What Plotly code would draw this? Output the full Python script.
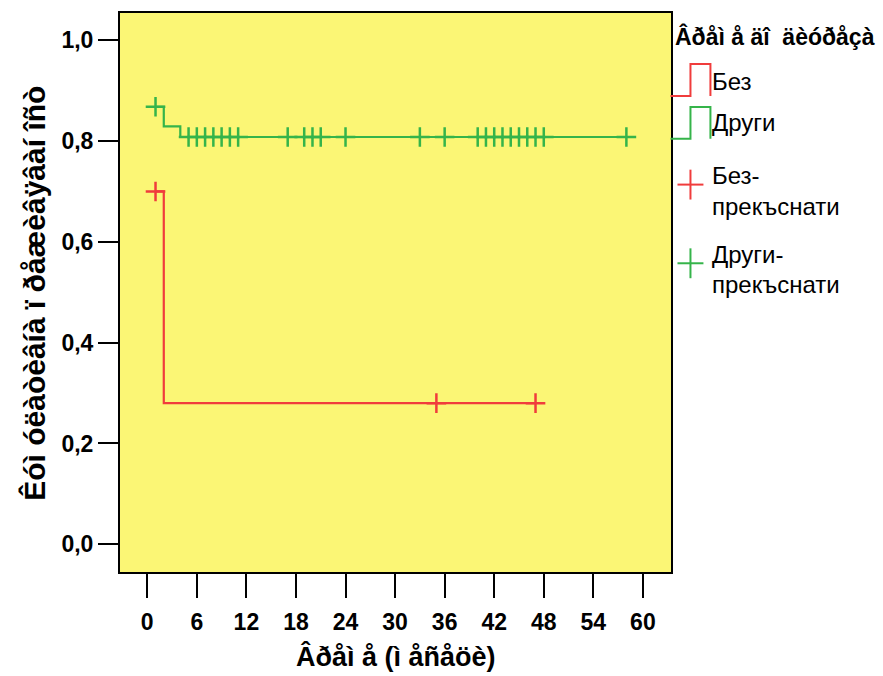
import plotly.graph_objects as go

# ---------------- data ----------------
x_ticks = [0, 6, 12, 18, 24, 30, 36, 42, 48, 54, 60]
y_ticks = [0.0, 0.2, 0.4, 0.6, 0.8, 1.0]
y_ticktext = ["0,0", "0,2", "0,4", "0,6", "0,8", "1,0"]

# Kaplan-Meier step curves
bez_time = [1, 2, 47]
bez_surv = [0.70, 0.28, 0.28]
drugi_time = [1, 2, 4, 58]
drugi_surv = [0.868, 0.829, 0.808, 0.808]

# censored observations
bez_cens_time = [1, 35, 47]
bez_cens_surv = [0.70, 0.28, 0.28]
drugi_cens_time = [1, 5, 6, 7, 8, 9, 10, 11, 17, 19, 20, 21, 24, 33, 36,
                   40, 41, 42, 43, 44, 45, 46, 47, 48, 58]
drugi_cens_surv = [0.868] + [0.808] * 24

legend_title = "Âðåì å äî  äèóðåçà"
legend_labels = ["Без", "Други", ["Без-", "прекъснати"], ["Други-", "прекъснати"]]
x_title = "Âðåì å (ì åñåöè)"
y_title = "Êóì óëàòèâíà ï ðåæèâÿâàí îñò"

RED = "#f03c3c"
GREEN = "#35b44a"
BG = "#FBF675"
FONT = "Liberation Sans, Arial, sans-serif"

# ---------------- layout geometry (pixels) ----------------
W, H = 883, 676
PL, PR, PT, PB = 119.5, 671.5, 10.7, 572.0


def px(x):
    return (x - PL) / (PR - PL)


def py(y):
    return (PB - y) / (PB - PT)


fig = go.Figure()

fig.add_trace(go.Scatter(x=bez_time, y=bez_surv, mode="lines",
                         line=dict(color=RED, width=2.2, shape="hv"),
                         showlegend=False, hoverinfo="skip"))
fig.add_trace(go.Scatter(x=drugi_time, y=drugi_surv, mode="lines",
                         line=dict(color=GREEN, width=2.2, shape="hv"),
                         showlegend=False, hoverinfo="skip"))
fig.add_trace(go.Scatter(x=bez_cens_time, y=bez_cens_surv, mode="markers",
                         marker=dict(symbol="cross-thin", size=14,
                                     line=dict(color=RED, width=2.5)),
                         showlegend=False, hoverinfo="skip"))
fig.add_trace(go.Scatter(x=drugi_cens_time, y=drugi_cens_surv, mode="markers",
                         marker=dict(symbol="cross-thin", size=14,
                                     line=dict(color=GREEN, width=2.5)),
                         showlegend=False, hoverinfo="skip"))

shapes = []
annotations = []

# legend: step icons
for color, ylow, yhigh in [(RED, 94, 62), (GREEN, 137, 105)]:
    pts = [(671, ylow), (691, ylow), (691, yhigh), (711, yhigh), (711, ylow)]
    path = "M " + " L ".join(f"{px(a):.5f},{py(b):.5f}" for a, b in pts)
    shapes.append(dict(type="path", xref="paper", yref="paper", path=path,
                       line=dict(color=color, width=2)))

# legend: plus icons
for color, cy in [(RED, 183), (GREEN, 262)]:
    shapes.append(dict(type="line", xref="paper", yref="paper",
                       x0=px(678), x1=px(704), y0=py(cy), y1=py(cy),
                       line=dict(color=color, width=2)))
    shapes.append(dict(type="line", xref="paper", yref="paper",
                       x0=px(691), x1=px(691), y0=py(cy - 15), y1=py(cy + 15),
                       line=dict(color=color, width=2)))

annotations.append(dict(text=legend_title, xref="paper", yref="paper",
                        x=px(674), y=py(34), xanchor="left", yanchor="middle",
                        showarrow=False,
                        font=dict(family=FONT, size=23, color="black", weight="bold")))

entry_lines = [(legend_labels[0], 79), (legend_labels[1], 121),
               (legend_labels[2][0], 174), (legend_labels[2][1], 205),
               (legend_labels[3][0], 253), (legend_labels[3][1], 283)]
for txt, cy in entry_lines:
    annotations.append(dict(text=txt, xref="paper", yref="paper",
                            x=px(711), y=py(cy), xanchor="left", yanchor="middle",
                            showarrow=False,
                            font=dict(family=FONT, size=24, color="black")))

annotations.append(dict(text=x_title, xref="paper", yref="paper",
                        x=0.5, y=py(657), xanchor="center", yanchor="middle",
                        showarrow=False,
                        font=dict(family=FONT, size=27, color="black", weight="bold")))
annotations.append(dict(text=y_title, xref="paper", yref="paper",
                        x=px(33), y=py(292), xanchor="center", yanchor="middle",
                        textangle=-90, showarrow=False,
                        font=dict(family=FONT, size=30, color="black", weight="bold")))

fig.update_layout(
    width=W, height=H,
    margin=dict(l=PL, r=W - PR, t=PT, b=H - PB, pad=0),
    paper_bgcolor="white",
    plot_bgcolor=BG,
    font=dict(family=FONT, color="black"),
    shapes=shapes,
    annotations=annotations,
    showlegend=False,
)

fig.update_xaxes(range=[-3.3, 63.4], tickvals=x_ticks, ticktext=[str(v) for v in x_ticks],
                 showgrid=False, zeroline=False, showline=True, mirror=True,
                 linecolor="black", linewidth=2, ticks="outside", ticklen=24,
                 tickwidth=2, tickcolor="black", ticklabelstandoff=4,
                 tickfont=dict(family=FONT, size=23, color="black", weight="bold"))
fig.update_yaxes(range=[-0.055, 1.054], tickvals=y_ticks, ticktext=y_ticktext,
                 showgrid=False, zeroline=False, showline=True, mirror=True,
                 linecolor="black", linewidth=2, ticks="outside", ticklen=20,
                 tickwidth=2, tickcolor="black",
                 tickfont=dict(family=FONT, size=23, color="black", weight="bold"))

fig.write_html("out.html")
